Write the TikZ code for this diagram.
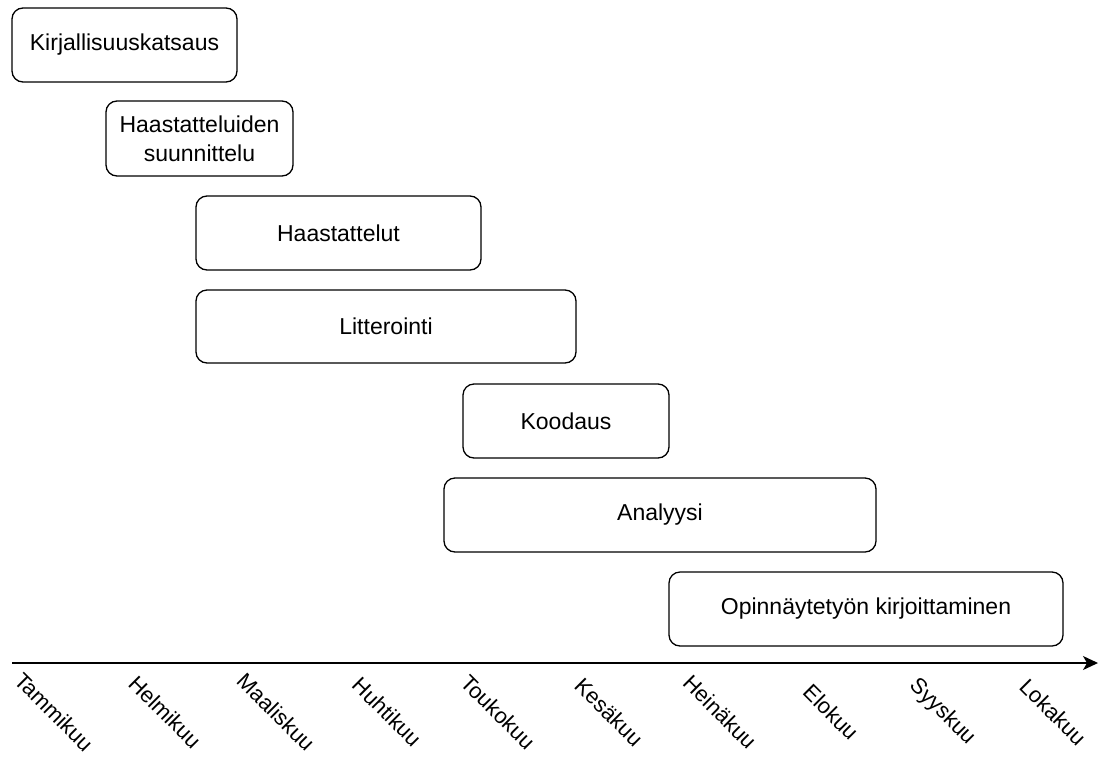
\documentclass[tikz,border=0pt]{standalone}
\usepackage{fontspec}
\setmainfont{Liberation Sans}
\usetikzlibrary{arrows.meta}
\begin{document}
\begin{tikzpicture}[x=1pt,y=-1pt,
  task/.style={draw=black, line width=1.3pt, rounded corners=11pt, fill=white,
    inner sep=0pt, align=center, font=\fontsize{23}{29}\selectfont},
  month/.style={rotate=-45, inner sep=0pt, font=\fontsize{22}{26}\selectfont},
  axisline/.style={draw=black, line width=1.3pt, -{Stealth[length=15pt,width=14pt,inset=4pt]}}]
\useasboundingbox (0,0) rectangle (1099,758);
\node[task, minimum width=225pt, minimum height=74pt] (k) at (124.5,45) {Kirjallisuuskatsaus};
\node[task, minimum width=187pt, minimum height=75pt] (hs) at (199.5,138.5) {Haastatteluiden\\suunnittelu};
\node[task, minimum width=285pt, minimum height=74pt] (h) at (338.5,233) {Haastattelut};
\node[task, minimum width=380pt, minimum height=73pt] (l) at (386,326.5) {Litterointi};
\node[task, minimum width=206pt, minimum height=74pt] (ko) at (566,421) {Koodaus};
\node[task, minimum width=432pt, minimum height=74pt] (a) at (660,515) {Analyysi};
\node[task, minimum width=394pt, minimum height=74pt] (o) at (866,609) {Opinnäytetyön kirjoittaminen};
\coordinate (ax0) at (12,663);
\coordinate (ax1) at (1098,663);
\draw[axisline] (ax0) -- (ax1);
\node[month] (m1) at (54,712) {Tammikuu};
\node[month] (m2) at (165,712) {Helmikuu};
\node[month] (m3) at (276,712) {Maaliskuu};
\node[month] (m4) at (387,712) {Huhtikuu};
\node[month] (m5) at (498,712) {Toukokuu};
\node[month] (m6) at (609,712) {Kesäkuu};
\node[month] (m7) at (720,712) {Heinäkuu};
\node[month] (m8) at (831,712) {Elokuu};
\node[month] (m9) at (942,712) {Syyskuu};
\node[month] (m10) at (1053,712) {Lokakuu};
\end{tikzpicture}
\end{document}
